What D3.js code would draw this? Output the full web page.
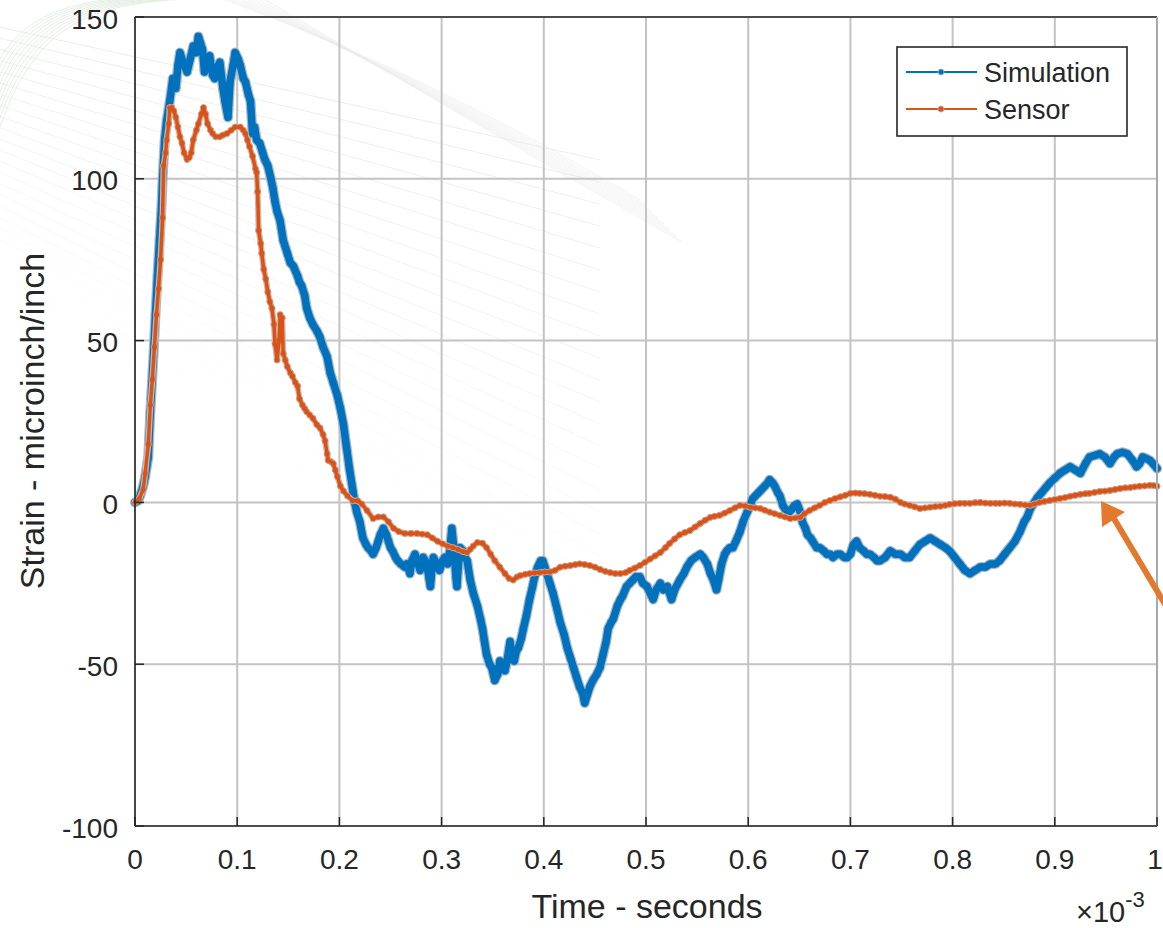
<!DOCTYPE html>
<html>
<head>
<meta charset="utf-8">
<script src="https://cdn.jsdelivr.net/npm/d3@7"></script>
<style>
  html, body { margin: 0; padding: 0; background: #ffffff; }
  svg { display: block; font-family: "Liberation Sans", Arial, Helvetica, sans-serif; }
</style>
</head>
<body>
<svg id="chart" width="1163" height="928"></svg>
<script>
// ---- data (time in units of 1e-3 s, strain in microinch/inch) ----
const seriesNames = ["Simulation", "Sensor"];
const xTicks = [0, 0.1, 0.2, 0.3, 0.4, 0.5, 0.6, 0.7, 0.8, 0.9, 1];
const yTicks = [-100, -50, 0, 50, 100, 150];
const xLabel = "Time - seconds";
const yLabel = "Strain - microinch/inch";
const xExponent = "-3";

const simT = [0,0.003,0.005,0.008,0.010,0.013,0.015,0.018,0.020,0.022,0.024,0.026,0.027,0.029,0.031,0.034,0.037,0.040,0.042,0.044,0.047,0.051,0.054,0.057,0.060,0.062,0.064,0.066,0.068,0.071,0.073,0.076,0.078,0.080,0.083,0.086,0.088,0.091,0.093,0.096,0.098,0.101,0.103,0.106,0.108,0.111,0.113,0.115,0.117,0.119,0.122,0.125,0.127,0.130,0.133,0.135,0.137,0.139,0.142,0.145,0.149,0.152,0.155,0.159,0.161,0.163,0.166,0.168,0.171,0.174,0.178,0.181,0.184,0.188,0.191,0.194,0.198,0.201,0.204,0.207,0.210,0.213,0.215,0.217,0.220,0.223,0.226,0.228,0.231,0.233,0.236,0.238,0.240,0.243,0.246,0.248,0.250,0.252,0.255,0.257,0.260,0.264,0.266,0.269,0.271,0.274,0.277,0.279,0.282,0.284,0.286,0.289,0.291,0.292,0.295,0.298,0.301,0.303,0.306,0.308,0.310,0.312,0.313,0.314,0.315,0.317,0.318,0.321,0.323,0.325,0.328,0.331,0.335,0.338,0.340,0.342,0.344,0.347,0.349,0.352,0.355,0.357,0.360,0.362,0.364,0.367,0.369,0.371,0.373,0.375,0.378,0.380,0.383,0.386,0.389,0.391,0.394,0.397,0.399,0.401,0.403,0.406,0.409,0.413,0.416,0.420,0.423,0.426,0.429,0.432,0.435,0.438,0.440,0.443,0.445,0.448,0.452,0.455,0.458,0.461,0.463,0.466,0.468,0.472,0.475,0.477,0.481,0.484,0.487,0.490,0.494,0.497,0.501,0.504,0.507,0.510,0.514,0.517,0.521,0.523,0.525,0.528,0.533,0.537,0.540,0.544,0.548,0.553,0.556,0.560,0.563,0.566,0.569,0.571,0.574,0.577,0.579,0.582,0.585,0.588,0.592,0.595,0.599,0.602,0.604,0.607,0.610,0.613,0.616,0.619,0.621,0.624,0.626,0.629,0.631,0.634,0.636,0.640,0.643,0.645,0.648,0.651,0.653,0.656,0.658,0.661,0.663,0.667,0.670,0.674,0.677,0.680,0.683,0.687,0.690,0.694,0.697,0.700,0.703,0.706,0.709,0.713,0.716,0.719,0.723,0.726,0.729,0.734,0.739,0.744,0.749,0.753,0.758,0.763,0.768,0.773,0.778,0.783,0.788,0.793,0.797,0.802,0.807,0.812,0.817,0.822,0.827,0.832,0.837,0.842,0.846,0.851,0.856,0.861,0.866,0.870,0.873,0.876,0.879,0.883,0.887,0.891,0.895,0.900,0.905,0.910,0.915,0.920,0.925,0.930,0.934,0.939,0.944,0.949,0.954,0.958,0.961,0.966,0.971,0.976,0.980,0.983,0.986,0.990,0.993,0.996,1.000];
const simV = [0,0.5,2,5,8,14,28,45,58,70,81,92,100,112,118,124,131,128,135,139,136,133,137,141,139,144,142,140,133,136,138,132,131,134,136,128,124,119,130,135,139,137,135,131,130,126,124,114,116,112,111,108,106,104,100,97,93,90,87,81,77,74,73,70,68,67,64,60,57,55,53,51,48,45,40,37,33,29,24,17,10,4,0,-3,-6,-11,-13,-14,-15,-16,-14,-12,-10,-8,-10,-12,-14,-15,-17,-18,-19,-20,-19,-22,-18,-16,-19,-21,-17,-18,-20,-26,-19,-17,-19,-21,-18,-17,-19,-15,-8,-14,-18,-23,-26,-17,-14,-15,-17,-18,-24,-28,-32,-36,-39,-43,-47,-50,-51,-55,-53,-49,-51,-52,-49,-43,-48,-49,-46,-45,-42,-39,-35,-30,-26,-23,-20,-18,-18,-20,-22,-25,-28,-33,-37,-41,-45,-48,-51,-54,-57,-59,-62,-59,-57,-55,-53,-51,-47,-43,-39,-37,-36,-32,-30,-29,-26,-25,-24,-23,-23,-25,-26,-28,-30,-27,-25,-27,-26,-28,-30,-27,-24,-22,-20,-18,-17,-16,-17,-19,-22,-24,-27,-24,-19,-16,-15,-14,-14,-12,-9,-6,-3,-1,1,2,3,4,5,6,7,6,5,3,2,-1,-2,-3,-2,-1,-0.5,-3,-6,-8,-10,-11,-12,-14,-14,-15,-16,-16,-17,-16,-16,-17,-17,-16,-13,-12,-14,-15,-16,-16,-17,-18,-18,-17,-15,-16,-16,-17,-17,-15,-13,-12,-11,-12,-13,-14,-15,-17,-19,-21,-22,-21,-20,-20,-19,-19,-18,-16,-14,-12,-9,-6,-4.5,-2,-0.5,1.5,3,4.5,6,7.5,9,10,11,10,9,12,14,14.5,15,14,12,14,15,15.5,15,13,11,12,14,13.5,13,12,10.5];

const senT = [0,0.004,0.008,0.010,0.013,0.015,0.017,0.019,0.021,0.023,0.025,0.027,0.028,0.030,0.031,0.033,0.034,0.036,0.038,0.040,0.042,0.044,0.046,0.048,0.051,0.053,0.055,0.057,0.060,0.062,0.065,0.067,0.069,0.071,0.074,0.076,0.079,0.083,0.086,0.090,0.094,0.098,0.103,0.106,0.108,0.110,0.112,0.115,0.118,0.119,0.120,0.121,0.123,0.124,0.126,0.128,0.130,0.132,0.134,0.136,0.137,0.139,0.141,0.142,0.144,0.145,0.147,0.149,0.152,0.154,0.157,0.159,0.161,0.164,0.166,0.168,0.171,0.174,0.178,0.181,0.184,0.186,0.188,0.189,0.192,0.194,0.196,0.198,0.201,0.204,0.208,0.213,0.218,0.222,0.227,0.233,0.238,0.243,0.248,0.253,0.258,0.264,0.270,0.276,0.281,0.286,0.291,0.296,0.301,0.306,0.311,0.316,0.321,0.325,0.328,0.331,0.335,0.340,0.344,0.348,0.352,0.357,0.362,0.366,0.370,0.374,0.377,0.382,0.386,0.391,0.396,0.401,0.406,0.411,0.416,0.421,0.426,0.431,0.435,0.440,0.445,0.450,0.455,0.460,0.465,0.470,0.475,0.480,0.484,0.489,0.494,0.499,0.504,0.509,0.514,0.519,0.523,0.528,0.533,0.538,0.543,0.548,0.553,0.558,0.563,0.567,0.572,0.577,0.582,0.587,0.592,0.597,0.602,0.607,0.612,0.616,0.621,0.626,0.631,0.636,0.641,0.646,0.651,0.655,0.660,0.665,0.670,0.675,0.680,0.685,0.690,0.695,0.700,0.705,0.709,0.714,0.719,0.724,0.729,0.734,0.739,0.744,0.749,0.753,0.758,0.763,0.768,0.773,0.778,0.783,0.788,0.793,0.797,0.802,0.807,0.812,0.817,0.822,0.827,0.832,0.837,0.842,0.846,0.851,0.856,0.861,0.866,0.871,0.876,0.880,0.885,0.890,0.895,0.900,0.905,0.910,0.915,0.920,0.925,0.930,0.934,0.939,0.944,0.949,0.954,0.959,0.964,0.969,0.974,0.978,0.983,0.988,0.993,0.997,1.000];
const senV = [0,1,4,9,18,30,38,48,58,66,75,88,104,108,112,117,122,122,121,119,116,113,111,108,106,106.5,108,112,115,117,120,122,120,117,115,114,113,113,113.5,114,115,116,116,115,114,112,110,107,103,102,96,84,80,77,72,69,65,62,60,55,49,44,50,58,57,46,44,42,40,39,37,36,32,30,29,28,27,26,24,23,21,19,15,13,12.5,12,10,8,5,3.5,2,0.5,0.5,-0.5,-2.5,-5,-4.5,-4.5,-6,-8,-9,-9.6,-9.6,-9.6,-9.8,-10,-11,-12,-12.8,-13.5,-14,-14.5,-15.2,-15.5,-14.5,-13.5,-12.4,-12.6,-14,-16,-18,-20,-22,-23.5,-24,-23,-22.6,-22.2,-22,-21.8,-21.7,-21.5,-21.5,-21,-20,-19.7,-19.5,-19.2,-19,-19.2,-19.5,-20,-20.7,-21.3,-21.7,-22,-22,-21.7,-21,-20.3,-19.5,-18.5,-17.5,-16.5,-15.5,-14,-12.7,-11.3,-10,-9.3,-8.7,-7.6,-6.5,-5.5,-4.6,-4.3,-4,-3.3,-2.5,-1.7,-0.9,-1.1,-1.5,-1.7,-1.9,-2.4,-3,-3.5,-4,-4.5,-5,-4.8,-4.6,-3.5,-2.5,-1.7,-0.9,0,0.6,1.2,1.7,2.2,2.8,2.9,2.8,2.7,2.5,2.2,1.9,1.8,1.6,1.0,0,-0.5,-0.9,-1.4,-1.9,-1.7,-1.5,-1.3,-1.2,-0.9,-0.6,-0.4,-0.3,-0.3,-0.3,-0.1,0,-0.2,-0.3,-0.3,-0.3,-0.2,-0.3,-0.5,-0.6,-0.8,-0.9,-0.5,0,0.3,0.6,0.9,1.2,1.5,1.9,2.2,2.5,2.7,2.8,3.1,3.4,3.5,3.7,4.0,4.3,4.5,4.6,4.8,5.0,5.1,5.3,5.2,5.0];

// ---- drawing ----
const svg = d3.select("#chart");
const x = d3.scaleLinear().domain([0, 1]).range([135, 1157]);
const y = d3.scaleLinear().domain([-100, 150]).range([826, 17]);
const colors = { Simulation: "#0072BD", Sensor: "#D95319" };
const textColor = "#262626";

// faint decorative background lines (slide template artwork)
const deco = svg.append("g").attr("fill", "none");
for (let i = 0; i < 24; i++) {
  deco.append("path")
    .attr("d", `M -10 ${25 + i * 11} Q 220 ${75 + i * 15} 600 ${160 + i * 22}`)
    .attr("stroke", "#e3eae3")
    .attr("stroke-width", 1)
    .attr("opacity", Math.max(0.12, 0.75 - i * 0.03));
}
for (let i = 0; i < 9; i++) {
  deco.append("path")
    .attr("d", `M -5 ${70 + i * 9} C ${10 + i * 3} ${30 - i * 2}, ${50 + i * 6} ${4}, ${120 + i * 10} ${-2}`)
    .attr("stroke", "#d5e4d3")
    .attr("stroke-width", 1)
    .attr("opacity", 0.6);
}
for (let i = 0; i < 8; i++) {
  deco.append("path")
    .attr("d", `M ${220 + i * 6} ${-2} Q ${420 + i * 5} ${70 + i * 6} ${640 + i * 6} ${200 + i * 6}`)
    .attr("stroke", "#eceeec")
    .attr("stroke-width", 1.5)
    .attr("opacity", 0.5);
}

// grid
const grid = svg.append("g");
grid.selectAll(".gx").data(xTicks).join("line")
  .attr("x1", d => x(d)).attr("x2", d => x(d))
  .attr("y1", y(150)).attr("y2", y(-100))
  .attr("stroke", "#c3c3c3").attr("stroke-width", 2);
grid.selectAll(".gy").data(yTicks).join("line")
  .attr("x1", x(0)).attr("x2", x(1))
  .attr("y1", d => y(d)).attr("y2", d => y(d))
  .attr("stroke", "#c3c3c3").attr("stroke-width", 2);

// series
const line = d3.line().x(d => x(d[0])).y(d => y(d[1]));
const simData = simT.map((t, i) => [t, simV[i]]);
const senData = senT.map((t, i) => [t, senV[i]]);

const plot = svg.append("g");
function drawSeries(data, color, halo, w, r, markerStroke) {
  plot.append("path").datum(data).attr("d", line)
    .attr("fill", "none").attr("stroke", halo).attr("stroke-width", w + 2.5)
    .attr("stroke-linejoin", "round").attr("stroke-linecap", "round");
  plot.append("g").selectAll("circle").data(data).join("circle")
    .attr("cx", d => x(d[0])).attr("cy", d => y(d[1])).attr("r", r)
    .attr("fill", color).attr("stroke", markerStroke).attr("stroke-width", 0.9);
  plot.append("path").datum(data).attr("d", line)
    .attr("fill", "none").attr("stroke", color).attr("stroke-width", w)
    .attr("stroke-linejoin", "round").attr("stroke-linecap", "round");
}
drawSeries(simData, colors.Simulation, "#a9b9c8", 7.5, 4, "#a9b9c8");
drawSeries(senData, colors.Sensor, "#d2b7a9", 3.5, 3.1, "#c9a999");

// axes box
const axes = svg.append("g");
axes.append("line").attr("x1", x(0)).attr("x2", x(0)).attr("y1", y(150)).attr("y2", y(-100))
  .attr("stroke", textColor).attr("stroke-width", 1.6);
axes.append("line").attr("x1", x(0)).attr("x2", x(1)).attr("y1", y(-100)).attr("y2", y(-100))
  .attr("stroke", textColor).attr("stroke-width", 1.6);
axes.append("line").attr("x1", x(0)).attr("x2", x(1)).attr("y1", y(150)).attr("y2", y(150))
  .attr("stroke", textColor).attr("stroke-width", 1.6);
axes.append("line").attr("x1", x(1)).attr("x2", x(1)).attr("y1", y(150)).attr("y2", y(-100))
  .attr("stroke", "#a8a8a8").attr("stroke-width", 2);

// tick marks (inside)
axes.selectAll(".tx").data(xTicks).join("line")
  .attr("x1", d => x(d)).attr("x2", d => x(d))
  .attr("y1", y(-100)).attr("y2", y(-100) - 9)
  .attr("stroke", textColor).attr("stroke-width", 1.5);
axes.selectAll(".ty").data(yTicks).join("line")
  .attr("x1", x(0)).attr("x2", x(0) + 9)
  .attr("y1", d => y(d)).attr("y2", d => y(d))
  .attr("stroke", textColor).attr("stroke-width", 1.5);

// tick labels
const fmt = d => String(d);
axes.selectAll(".lx").data(xTicks).join("text")
  .attr("x", d => d === 1 ? x(d) - 2 : x(d)).attr("y", 869)
  .attr("text-anchor", "middle").attr("font-size", 28).attr("fill", textColor)
  .text(fmt);
axes.selectAll(".ly").data(yTicks).join("text")
  .attr("x", 118).attr("y", d => y(d) + 2)
  .attr("text-anchor", "end").attr("dominant-baseline", "central")
  .attr("font-size", 28).attr("fill", textColor)
  .text(d => String(d));

// exponent
const ex = axes.append("text").attr("x", 1076).attr("y", 922)
  .attr("font-size", 29).attr("fill", textColor);
ex.append("tspan").text("\u00d710");
ex.append("tspan").attr("font-size", 22).attr("dy", -15).text(xExponent);

// axis labels
axes.append("text").attr("x", 647).attr("y", 918)
  .attr("text-anchor", "middle").attr("font-size", 34).attr("fill", textColor)
  .text(xLabel);
axes.append("text").attr("transform", "translate(44,421) rotate(-90)")
  .attr("text-anchor", "middle").attr("font-size", 34).attr("fill", textColor)
  .text(yLabel);

// legend
const lg = svg.append("g");
lg.append("rect").attr("x", 897).attr("y", 47).attr("width", 230).attr("height", 89)
  .attr("fill", "#ffffff").attr("stroke", textColor).attr("stroke-width", 1.6);
seriesNames.forEach((name, i) => {
  const yy = 72 + i * 37;
  lg.append("line").attr("x1", 906).attr("x2", 977).attr("y1", yy).attr("y2", yy)
    .attr("stroke", colors[name]).attr("stroke-width", 2);
  lg.append("circle").attr("cx", 941).attr("cy", yy).attr("r", 3)
    .attr("fill", colors[name]).attr("stroke", "#b0b8c0").attr("stroke-width", 0.8);
  lg.append("text").attr("x", 984).attr("y", yy + 1)
    .attr("dominant-baseline", "central").attr("font-size", 27).attr("fill", textColor)
    .text(name);
});

// annotation arrow
const arrowColor = "#E2792F";
svg.append("line").attr("x1", 1166).attr("y1", 606).attr("x2", 1113).attr("y2", 517)
  .attr("stroke", arrowColor).attr("stroke-width", 6);
svg.append("polygon")
  .attr("points", "1101,501 1102,527 1125,512")
  .attr("fill", arrowColor);
</script>
</body>
</html>
